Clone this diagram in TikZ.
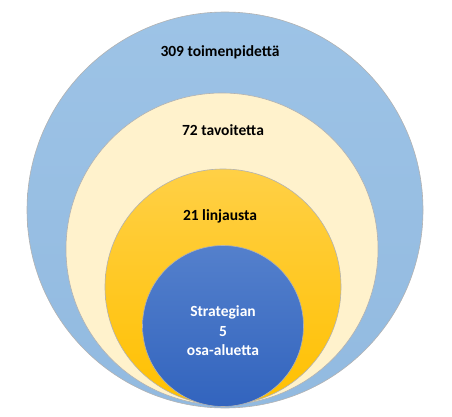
\documentclass[tikz,border=0pt]{standalone}
\usepackage{fontspec}
\setmainfont{Carlito}
\usepackage{tikz}
\usetikzlibrary{calc}
\definecolor{ringblue}{RGB}{157,195,230}
\definecolor{ringbluedark}{RGB}{146,186,224}
\definecolor{ringcream}{RGB}{255,242,204}
\definecolor{ringyellowtop}{RGB}{255,208,70}
\definecolor{ringyellow}{RGB}{255,192,0}
\definecolor{coretop}{RGB}{84,128,204}
\definecolor{corebottom}{RGB}{50,100,190}

\begin{document}
\begin{tikzpicture}[x=1pt,y=-1pt,
  ring/.style={circle,inner sep=0pt,draw=black!30,line width=.6pt},
  lbl/.style={font=\fontsize{15.5}{19.5}\selectfont\bfseries,align=center}]
  \useasboundingbox (0,0) rectangle (452,417);
  \draw(225,210) node[ring,minimum size=396pt,top color=ringblue,bottom color=ringbluedark] (R1) {};
  \draw(222,249) node[ring,minimum size=312pt,fill=ringcream] (R2) {};
  \draw(223,287) node[ring,minimum size=236pt,top color=ringyellowtop,bottom color=ringyellow] (R3) {};
  \draw(223,326) node[ring,minimum size=161pt,top color=coretop,bottom color=corebottom] (R4) {};
  \node[lbl] (L1) at (220,52) {309 toimenpidettä};
  \node[lbl] (L2) at (223,130) {72 tavoitetta};
  \node[lbl] (L3) at (220,216) {21 linjausta};
  \node[lbl,text=white] (L4) at (223,331) {Strategian\\5\\osa-aluetta};
\end{tikzpicture}
\end{document}
